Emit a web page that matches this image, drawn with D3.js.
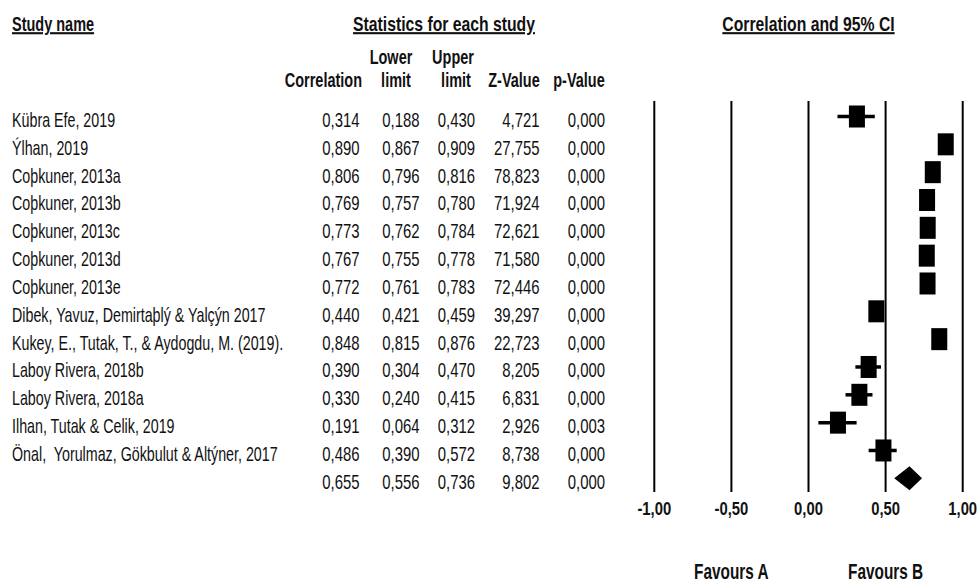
<!DOCTYPE html>
<html>
<head>
<meta charset="utf-8">
<script src="https://cdn.jsdelivr.net/npm/d3@7"></script>
<style>
  body { margin: 0; background: #fff; }
  text { font-family: "Liberation Sans", Arial, sans-serif; fill: #111; white-space: pre; }
</style>
</head>
<body>
<div id="chart"></div>
<script>
// data
var studies = [
  "Kübra Efe, 2019",
  "Ýlhan, 2019",
  "Coþkuner, 2013a",
  "Coþkuner, 2013b",
  "Coþkuner, 2013c",
  "Coþkuner, 2013d",
  "Coþkuner, 2013e",
  "Dibek, Yavuz, Demirtaþlý & Yalçýn 2017",
  "Kukey, E., Tutak, T., & Aydogdu, M. (2019).",
  "Laboy Rivera, 2018b",
  "Laboy Rivera, 2018a",
  "Ilhan, Tutak & Celik, 2019",
  "Önal,  Yorulmaz, Gökbulut & Altýner, 2017"
];
var correlation = [0.314, 0.890, 0.806, 0.769, 0.773, 0.767, 0.772, 0.440, 0.848, 0.390, 0.330, 0.191, 0.486];
var lowerLimit  = [0.188, 0.867, 0.796, 0.757, 0.762, 0.755, 0.761, 0.421, 0.815, 0.304, 0.240, 0.064, 0.390];
var upperLimit  = [0.430, 0.909, 0.816, 0.780, 0.784, 0.778, 0.783, 0.459, 0.876, 0.470, 0.415, 0.312, 0.572];
var zValue      = [4.721, 27.755, 78.823, 71.924, 72.621, 71.580, 72.446, 39.297, 22.723, 8.205, 6.831, 2.926, 8.738];
var pValue      = [0.000, 0.000, 0.000, 0.000, 0.000, 0.000, 0.000, 0.000, 0.000, 0.000, 0.000, 0.003, 0.000];
// pooled: correlation, lower, upper, z, p
var summary = [0.655, 0.556, 0.736, 9.802, 0.000];
var axisTicks = [-1, -0.5, 0, 0.5, 1];
var favours = ["Favours A", "Favours B"];

var width = 978, height = 583;
var sx = 0.69; // the original text is squeezed sideways

var loc = d3.formatLocale({decimal: ",", thousands: ".", grouping: [3], currency: ["", ""], minus: "-"});
var f3 = loc.format(".3f"), f2 = loc.format(".2f");

var svg = d3.select('#chart').append('svg')
  .attr('width', width)
  .attr('height', height);

var x = d3.scaleLinear().domain([-1, 1]).range([654.3, 962.7]);
var y = d3.scalePoint().domain(d3.range(studies.length + 1)).range([116.5, 478.3]);

function label(g, tx, ty, str, opt) {
  opt = opt || {};
  return g.append('text')
    .attr('transform', 'translate(' + tx + ',' + ty + ') scale(' + (opt.sx || sx) + ',1)')
    .attr('text-anchor', opt.anchor || 'start')
    .attr('font-size', opt.size || 21)
    .attr('font-weight', opt.bold ? 'bold' : null)
    .attr('text-decoration', opt.underline ? 'underline' : null)
    .text(str);
}

// headers
var head = svg.append('g');
label(head, 12, 31, "Study name", {bold: true, underline: true});
label(head, 444, 31, "Statistics for each study", {bold: true, underline: true, anchor: 'middle', sx: 0.75});
label(head, x(0), 31, "Correlation and 95% CI", {bold: true, underline: true, anchor: 'middle', sx: 0.75});
label(head, 362, 87, "Correlation", {bold: true, anchor: 'end'});
label(head, 391, 64, "Lower", {bold: true, anchor: 'middle'});
label(head, 396, 87, "limit", {bold: true, anchor: 'middle'});
label(head, 453, 64, "Upper", {bold: true, anchor: 'middle'});
label(head, 456, 87, "limit", {bold: true, anchor: 'middle'});
label(head, 514, 87, "Z-Value", {bold: true, anchor: 'middle'});
label(head, 579, 87, "p-Value", {bold: true, anchor: 'middle'});

// table rows
var rows = studies.map(function(s, i) {
  return {name: s, r: correlation[i], lo: lowerLimit[i], hi: upperLimit[i], z: zValue[i], p: pValue[i], i: i};
});
var pooled = {name: "", r: summary[0], lo: summary[1], hi: summary[2], z: summary[3], p: summary[4], i: studies.length};
var allRows = rows.concat([pooled]);

var colRight = [359.5, 419.5, 475, 539.5, 605];
var tbl = svg.append('g');
allRows.forEach(function(d) {
  var ty = y(d.i) + 10.5;
  label(tbl, 12, ty, d.name, {sx: 0.68});
  [d.r, d.lo, d.hi, d.z, d.p].forEach(function(v, k) {
    label(tbl, colRight[k], ty, f3(v), {anchor: 'end', sx: 0.71});
  });
});

// vertical reference lines
svg.append('g').selectAll('line')
  .data(axisTicks)
  .enter().append('line')
  .attr('x1', function(d) { return x(d); })
  .attr('x2', function(d) { return x(d); })
  .attr('y1', 101)
  .attr('y2', 492)
  .attr('stroke', '#000')
  .attr('stroke-width', 2);

// axis labels
var ax = svg.append('g');
axisTicks.forEach(function(t) {
  label(ax, x(t), 515, f2(t), {bold: true, anchor: 'middle', size: 19, sx: 0.78});
});
label(ax, x(-0.5), 579, favours[0], {bold: true, anchor: 'middle', size: 22, sx: 0.7});
label(ax, x(0.5), 579, favours[1], {bold: true, anchor: 'middle', size: 22, sx: 0.7});

// confidence intervals
var plot = svg.append('g');
plot.selectAll('line.ci')
  .data(rows)
  .enter().append('line')
  .attr('class', 'ci')
  .attr('x1', function(d) { return x(d.lo); })
  .attr('x2', function(d) { return x(d.hi); })
  .attr('y1', function(d) { return y(d.i); })
  .attr('y2', function(d) { return y(d.i); })
  .attr('stroke', '#000')
  .attr('stroke-width', 3.5);

// study squares
var bw = 16, bh = 22;
plot.selectAll('rect')
  .data(rows)
  .enter().append('rect')
  .attr('x', function(d) { return x(d.r) - bw / 2; })
  .attr('y', function(d) { return y(d.i) - bh / 2; })
  .attr('width', bw)
  .attr('height', bh)
  .attr('fill', '#000');

// pooled diamond
var cy = y(pooled.i), dh = 12;
plot.append('path')
  .attr('d', 'M' + x(pooled.lo) + ',' + cy +
             'L' + x(pooled.r) + ',' + (cy - dh) +
             'L' + x(pooled.hi) + ',' + cy +
             'L' + x(pooled.r) + ',' + (cy + dh) + 'Z')
  .attr('fill', '#000');
</script>
</body>
</html>
